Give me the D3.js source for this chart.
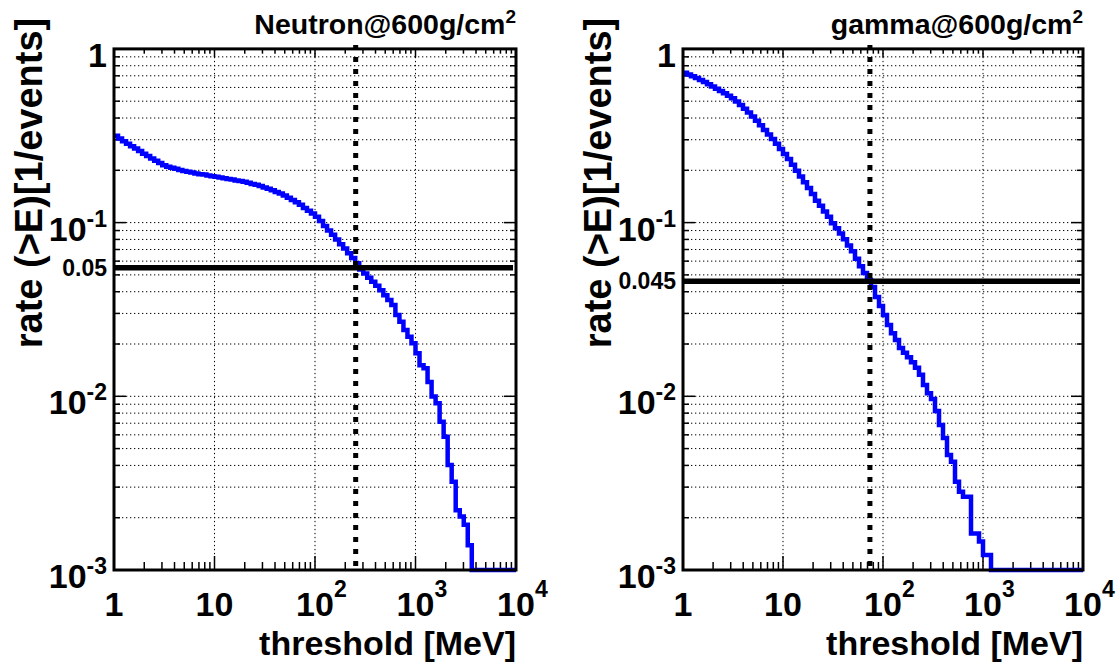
<!DOCTYPE html>
<html><head><meta charset="utf-8">
<script src="https://cdn.jsdelivr.net/npm/d3@7"></script>
<style>
body{margin:0;background:#fff}
text{font-family:"Liberation Sans",Arial,Helvetica,sans-serif;font-weight:bold;fill:#000}
</style>
</head><body><svg id="c" width="1118" height="664"></svg>
<script>
// histogram axis: 100 log-uniform bins from 1 to 10^4 MeV
const nBins = 100, xMin = 1, xMax = 1e4, yMin = 1e-3, yMax = 1;

const neutronRate = [
0.316,0.305,0.294,0.284,0.275,0.267,0.258,0.249,0.242,0.234,
0.227,0.220,0.214,0.210,0.207,0.204,0.201,0.198,0.196,0.194,
0.192,0.190,0.189,0.187,0.185,0.1835,0.182,0.180,0.1785,0.177,
0.175,0.1735,0.172,0.1695,0.167,0.165,0.1625,0.1595,0.1565,0.1535,
0.150,0.147,0.143,0.139,0.135,0.131,0.1265,0.1215,0.117,0.113,
0.108,0.102,0.0955,0.090,0.085,0.080,0.075,0.071,0.0667,0.0626,
0.0583,0.0537,0.0509,0.0481,0.0457,0.0433,0.0408,0.0382,0.0359,0.0336,
0.0294,0.0269,0.0241,0.0220,0.0202,0.0177,0.0151,0.0145,0.0121,0.00996,
0.00912,0.00714,0.00585,0.00402,0.00322,0.00221,0.00203,0.00182,0.00139,0,
0,0,0,0,0,0,0,0,0,0];

const gammaRate = [
0.728,0.713,0.696,0.679,0.662,0.644,0.626,0.608,0.590,0.572,
0.555,0.537,0.520,0.4975,0.475,0.452,0.430,0.408,0.386,0.363,
0.341,0.321,0.303,0.284,0.265,0.248,0.232,0.215,0.199,0.184,
0.171,0.158,0.146,0.1335,0.125,0.116,0.108,0.0991,0.0928,0.0865,
0.0801,0.0738,0.0685,0.0620,0.0560,0.0513,0.0468,0.0426,0.0373,0.0331,
0.0294,0.0257,0.0231,0.0211,0.0190,0.0178,0.0168,0.0157,0.0146,0.0133,
0.0116,0.0104,0.00964,0.00822,0.00684,0.00575,0.00459,0.00420,0.00322,0.00282,
0.00264,0.00264,0.00162,0.00162,0.00146,0.00122,0.00122,0,0,0,
0,0,0,0,0,0,0,0,0,0,
0,0,0,0,0,0,0,0,0,0];

const xTickLabels = [{v:1,base:"1",exp:""},{v:10,base:"10",exp:""},{v:100,base:"10",exp:"2"},{v:1000,base:"10",exp:"3"},{v:10000,base:"10",exp:"4"}];
const yTickLabels = [{v:1,base:"1",exp:""},{v:0.1,base:"10",exp:"-1"},{v:0.01,base:"10",exp:"-2"},{v:0.001,base:"10",exp:"-3"}];
const titles = ["Neutron@600g/cm","gamma@600g/cm"];
const titleSup = "2";
const rates = [neutronRate, gammaRate];
const cutRate = [0.055, 0.046];
const cutLabel = ["0.05", "0.045"];
const cutEnergy = [254, 74];
const xTitle = "threshold [MeV]";
const yTitle = "rate (>E)[1/events]";

// layout
const frames = [{left:114,right:516,ytx:42},{left:683,right:1083,ytx:611}];
const frameTop = 48.9, frameBottom = 570;

const svg = d3.select("#c");
const edges = d3.range(nBins+1).map(i => xMin*Math.pow(xMax/xMin, i/nBins));

function textWidth(str, size) {
  const t = svg.append("text").attr("font-size", size).text(str);
  const w = t.node().getComputedTextLength();
  t.remove();
  return w;
}

frames.forEach((F,k) => {
  const x = d3.scaleLog().domain([xMin,xMax]).range([F.left,F.right]);
  const y = d3.scaleLog().domain([yMin,yMax]).range([frameBottom,frameTop]);
  const g = svg.append("g");
  const isMajor = v => Math.abs(Math.log10(v) - Math.round(Math.log10(v))) < 1e-9;

  // grid
  y.ticks().filter(v => v > yMin*1.0001 && v < yMax*0.9999).forEach(v => {
    g.append("line").attr("x1",F.left).attr("x2",F.right).attr("y1",y(v)).attr("y2",y(v))
      .attr("stroke","#000").attr("stroke-width",1).attr("stroke-dasharray","1.3,2.7");
  });
  x.ticks().filter(v => isMajor(v) && v > xMin && v < xMax).forEach(v => {
    g.append("line").attr("x1",x(v)).attr("x2",x(v)).attr("y1",frameTop).attr("y2",frameBottom)
      .attr("stroke","#000").attr("stroke-width",1).attr("stroke-dasharray","1.3,2.7");
  });

  // ticks
  x.ticks().forEach(v => {
    const len = isMajor(v) ? 14 : 8;
    g.append("line").attr("x1",x(v)).attr("x2",x(v)).attr("y1",frameBottom).attr("y2",frameBottom-len).attr("stroke","#000").attr("stroke-width",1.5);
    g.append("line").attr("x1",x(v)).attr("x2",x(v)).attr("y1",frameTop).attr("y2",frameTop+len*0.6).attr("stroke","#000").attr("stroke-width",1.5);
  });
  y.ticks().forEach(v => {
    const len = isMajor(v) ? 12 : 6;
    g.append("line").attr("x1",F.left).attr("x2",F.left+len).attr("y1",y(v)).attr("y2",y(v)).attr("stroke","#000").attr("stroke-width",1.5);
    g.append("line").attr("x1",F.right).attr("x2",F.right-len).attr("y1",y(v)).attr("y2",y(v)).attr("stroke","#000").attr("stroke-width",1.5);
  });

  // histogram
  const pts = [];
  rates[k].forEach((v,i) => { pts.push([edges[i],v]); pts.push([edges[i+1],v]); });
  g.append("path").datum(pts)
    .attr("d", d3.line().x(d => x(d[0])).y(d => y(Math.max(d[1],yMin))))
    .attr("fill","none").attr("stroke","#0000ff").attr("stroke-width",4.5).attr("stroke-linejoin","miter");

  // cut lines
  g.append("line").attr("x1",F.left).attr("x2",F.right-3).attr("y1",y(cutRate[k])).attr("y2",y(cutRate[k]))
    .attr("stroke","#000").attr("stroke-width",5.5);
  g.append("line").attr("x1",x(cutEnergy[k])).attr("x2",x(cutEnergy[k])).attr("y1",frameTop-4).attr("y2",frameBottom-4)
    .attr("stroke","#000").attr("stroke-width",5).attr("stroke-dasharray","5,7");
  g.append("text").attr("x",F.left-7).attr("y",y(cutRate[k])+8).attr("text-anchor","end")
    .attr("font-size",23).text(cutLabel[k]);

  // frame
  g.append("rect").attr("x",F.left).attr("y",frameTop).attr("width",F.right-F.left).attr("height",frameBottom-frameTop)
    .attr("fill","none").attr("stroke","#000").attr("stroke-width",3);

  // x tick labels (base centred on the tick, exponent hanging to the right)
  xTickLabels.forEach(t => {
    const w = textWidth(t.base, 34);
    const tx = g.append("text").attr("x",x(t.v)-w/2).attr("y",frameBottom+46).attr("font-size",34);
    tx.append("tspan").text(t.base);
    if (t.exp) tx.append("tspan").attr("dy",-19).attr("font-size",23).text(t.exp);
  });
  // y tick labels
  yTickLabels.forEach(t => {
    const tt = g.append("text").attr("x",F.left-7).attr("y",y(t.v)+18).attr("text-anchor","end").attr("font-size",34);
    tt.append("tspan").text(t.base);
    if (t.exp) tt.append("tspan").attr("dy",-14).attr("font-size",23).text(t.exp);
  });

  // titles
  const tt = g.append("text").attr("x",F.right).attr("y",34).attr("text-anchor","end").attr("font-size",28.5);
  tt.append("tspan").text(titles[k]);
  tt.append("tspan").attr("dy",-11).attr("font-size",19).text(titleSup);

  g.append("text").attr("x",F.right).attr("y",frameBottom+85).attr("text-anchor","end").attr("font-size",34).text(xTitle);
  g.append("text").attr("transform",`translate(${F.ytx},183) rotate(-90)`).attr("text-anchor","middle")
    .attr("font-size",38).text(yTitle);
});
</script>
</body></html>
